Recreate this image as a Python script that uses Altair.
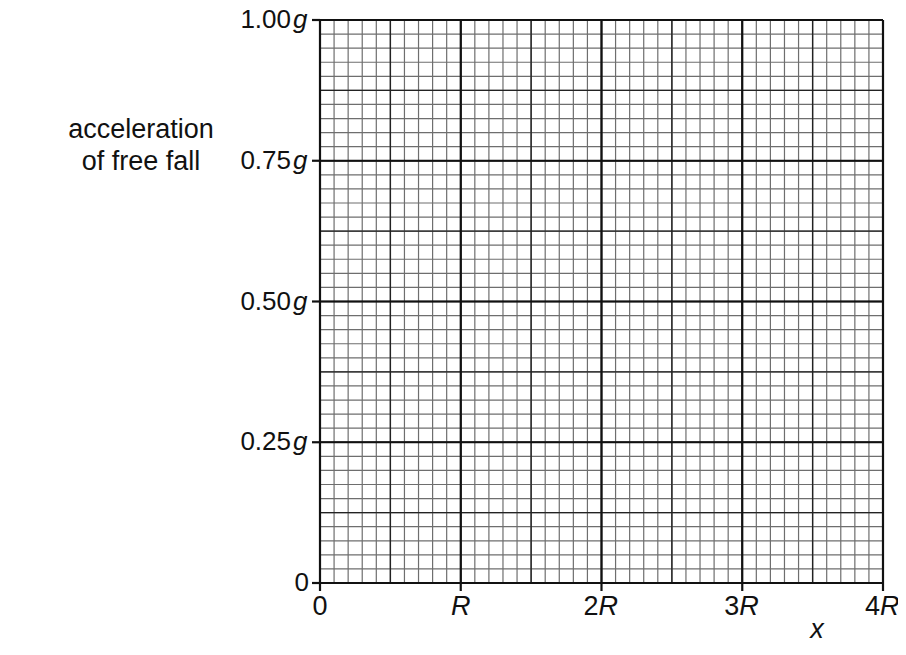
import altair as alt
import pandas as pd

# ---- values ----
x_major = [0, 1, 2, 3, 4]               # multiples of R
y_major = [0.0, 0.25, 0.50, 0.75, 1.00]  # multiples of g
x_num_labels = ["0", "", "2", "3", "4"]
x_unit_labels = ["", "R", "R", "R", "R"]
y_num_labels = ["0", "0.25", "0.50", "0.75", "1.00"]
y_unit_labels = ["", "g", "g", "g", "g"]
x_minor = [i / 10 for i in range(41)]     # 0.1 R squares
y_minor = [i / 40 for i in range(41)]     # 0.025 g squares
x_medium = [i / 2 for i in range(9)]
y_medium = [i / 8 for i in range(9)]
y_title_lines = ["acceleration", "of free fall"]
x_title = "x"

W = H = 563
FONT = "Liberation Sans"
FS = 27
FSY = 26

xs = alt.Scale(domain=[0, 4], nice=False, zero=False)
ys = alt.Scale(domain=[0, 1], nice=False, zero=False)

def vrules(vals, color, width):
    return alt.Chart(pd.DataFrame({"v": vals})).mark_rule(
        color=color, strokeWidth=width).encode(
        x=alt.X("v:Q", scale=xs, axis=None),
        y=alt.value(0), y2=alt.value(H))

def hrules(vals, color, width):
    return alt.Chart(pd.DataFrame({"v": vals})).mark_rule(
        color=color, strokeWidth=width).encode(
        y=alt.Y("v:Q", scale=ys, axis=None),
        x=alt.value(0), x2=alt.value(W))

grid = [
    vrules(x_minor, "#6e6e6e", 1.2), hrules(y_minor, "#6e6e6e", 1.2),
    vrules(x_medium, "#222222", 1.4), hrules(y_medium, "#222222", 1.4),
    vrules(x_major, "#111111", 2.2), hrules(y_major, "#111111", 2.2),
]

# ticks
xt = alt.Chart(pd.DataFrame({"v": x_major})).mark_rule(color="#111", strokeWidth=2.2).encode(
    x=alt.X("v:Q", scale=xs), y=alt.value(H), y2=alt.value(H + 8))
yt = alt.Chart(pd.DataFrame({"v": y_major})).mark_rule(color="#111", strokeWidth=2.2).encode(
    y=alt.Y("v:Q", scale=ys), x=alt.value(-8), x2=alt.value(0))

txt = dict(font=FONT, fontSize=FS, color="#111")
txty = dict(font=FONT, fontSize=FSY, color="#111")
XB = H + 32

xdf = pd.DataFrame({"v": x_major, "n": x_num_labels, "u": x_unit_labels})
x0 = alt.Chart(xdf[(xdf.n != "") & (xdf.u == "")]).mark_text(
    align="center", baseline="alphabetic", **txt).encode(
    x=alt.X("v:Q", scale=xs), y=alt.value(XB), text="n:N")
xn = alt.Chart(xdf[(xdf.n != "") & (xdf.u != "")]).mark_text(
    align="right", baseline="alphabetic", dx=-3, **txt).encode(
    x=alt.X("v:Q", scale=xs), y=alt.value(XB), text="n:N")
xu_c = alt.Chart(xdf[(xdf.n == "") & (xdf.u != "")]).mark_text(
    align="center", baseline="alphabetic", fontStyle="italic", **txt).encode(
    x=alt.X("v:Q", scale=xs), y=alt.value(XB), text="u:N")
xu_r = alt.Chart(xdf[(xdf.n != "") & (xdf.u != "")]).mark_text(
    align="left", baseline="alphabetic", fontStyle="italic", dx=-3, **txt).encode(
    x=alt.X("v:Q", scale=xs), y=alt.value(XB), text="u:N")

ydf = pd.DataFrame({"v": y_major, "n": y_num_labels, "u": y_unit_labels})
y0 = alt.Chart(ydf[ydf.u == ""]).mark_text(
    align="right", baseline="middle", **txty).encode(
    y=alt.Y("v:Q", scale=ys), x=alt.value(-11), text="n:N")
yn = alt.Chart(ydf[ydf.u != ""]).mark_text(
    align="right", baseline="middle", **txty).encode(
    y=alt.Y("v:Q", scale=ys), x=alt.value(-29), text="n:N")
yu = alt.Chart(ydf[ydf.u != ""]).mark_text(
    align="left", baseline="middle", fontStyle="italic", **txty).encode(
    y=alt.Y("v:Q", scale=ys), x=alt.value(-27), text="u:N")

tdf = pd.DataFrame({"t": y_title_lines, "yy": [118, 150]})
ytitle = alt.Chart(tdf).mark_text(align="center", baseline="alphabetic", **txt).encode(
    x=alt.value(-179), y=alt.Y("yy:Q", scale=None), text="t:N")
xtitle = alt.Chart(pd.DataFrame({"t": [x_title]})).mark_text(
    align="center", baseline="alphabetic", fontStyle="italic", **txt).encode(
    x=alt.value(497), y=alt.value(H + 55), text="t:N")

chart = alt.layer(*grid, xt, yt, x0, xn, xu_c, xu_r, y0, yn, yu, ytitle, xtitle).properties(
    width=W, height=H,
    autosize=alt.AutoSizeParams(type="none"),
    padding={"left": 312, "top": 12, "right": 15, "bottom": 61},
).configure_view(stroke=None).configure(background="white")

chart.save("out.html", embed_options={"renderer": "svg", "actions": False})
